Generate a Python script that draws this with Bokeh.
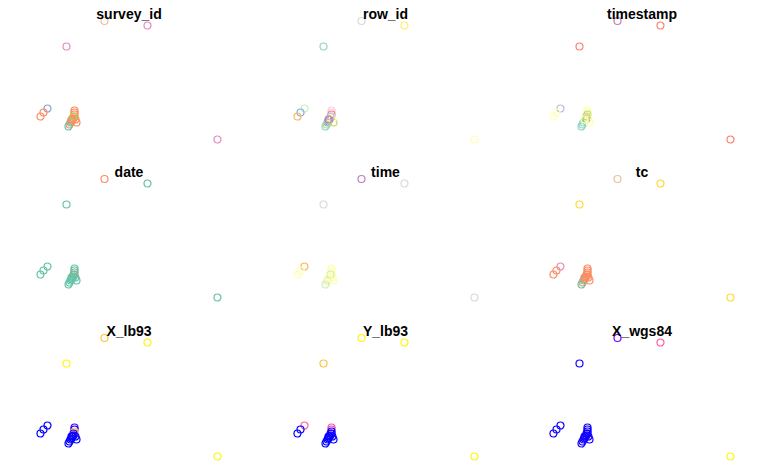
from bokeh.plotting import figure
from bokeh.layouts import gridplot
from bokeh.models import Range1d, Label, ColumnDataSource
from bokeh.embed import file_html
from bokeh.resources import INLINE

# point coordinates (Lambert-like metres)
X = [154000, 197000, 116000, 97000, 93000, 90000, 267000,
     124000, 124000, 124000, 124000, 123000, 122000, 121000, 120000,
     119000, 118000, 126000, 125000, 123000, 121000]
Y = [229500, 225000, 204000, 142000, 138000, 134000, 111000,
     140000, 138000, 136000, 134000, 132000, 131000, 129000, 128000,
     126000, 124000, 128000, 131000, 134000, 131000]

titles = ["survey_id", "row_id", "timestamp", "date", "time", "tc",
          "X_lb93", "Y_lb93", "X_wgs84"]

# categorical codes (palette index) per attribute
survey_id = [6, 3, 3, 2, 1, 1, 3, 1, 1, 1, 1, 1, 1, 1, 0, 1, 0, 1, 1, 4, 1]
row_id    = [8, 11, 0, 10, 4, 5, 1, 7, 7, 3, 8, 1, 9, 9, 4, 6, 0, 6, 1, 2, 9]
timestamp = [9, 3, 3, 2, 1, 1, 3, 1, 1, 6, 1, 3, 0, 1, 0, 0, 0, 1, 1, 6, 1]
date      = [1, 0, 0, 0, 0, 0, 0, 0, 0, 0, 1, 0, 0, 0, 0, 0, 0, 0, 0, 0, 0]
time      = [9, 8, 8, 5, 1, 1, 8, 1, 1, 1, 1, 1, 1, 1, 10, 1, 10, 1, 1, 10, 1]
tc        = [6, 5, 5, 3, 1, 1, 5, 1, 1, 1, 1, 1, 1, 1, 0, 1, 0, 1, 1, 1, 1]
# continuous levels (0..1) per attribute
X_lb93  = [0.80, 0.90, 0.90, 0.25, 0.25, 0.25, 0.90, 0.35, 0.25, 0.80, 0.75,
           0.25, 0.25, 0.25, 0.25, 0.25, 0.25, 0.25, 0.25, 0.30, 0.25]
Y_lb93  = [0.90, 0.90, 0.80, 0.62, 0.25, 0.25, 0.90, 0.60, 0.55, 0.25, 0.25,
           0.25, 0.25, 0.25, 0.25, 0.25, 0.25, 0.25, 0.25, 0.30, 0.25]
X_wgs84 = [0.40, 0.60, 0.27, 0.27, 0.27, 0.27, 0.90, 0.27, 0.27, 0.27, 0.27,
           0.27, 0.27, 0.27, 0.27, 0.27, 0.27, 0.27, 0.27, 0.27, 0.27]

SET2 = ["#66C2A5", "#FC8D62", "#8DA0CB", "#E78AC3", "#A6D854", "#FFD92F",
        "#E5C494", "#B3B3B3"]
SET3 = ["#8DD3C7", "#FFFFB3", "#BEBADA", "#FB8072", "#80B1D3", "#FDB462",
        "#B3DE69", "#FCCDE5", "#D9D9D9", "#BC80BD", "#CCEBC5", "#FFED6F"]


def bpy(i):
    r = 0 if i < .25 else (i / .32 - .78125 if i < .57 else 1)
    g = 0 if i < .42 else (2 * i - .84 if i < .92 else 1)
    b = 4 * i if i < .25 else (1 if i < .42 else (-2 * i + 1.84 if i < .92 else i / .08 - 11.5))
    c = [max(0, min(1, v)) for v in (r, g, b)]
    return "#%02X%02X%02X" % tuple(int(round(v * 255)) for v in c)


colors = [
    [SET2[k] for k in survey_id],
    [SET3[k] for k in row_id],
    [SET3[k] for k in timestamp],
    [SET2[k] for k in date],
    [SET3[k] for k in time],
    [SET2[k] for k in tc],
    [bpy(v) for v in X_lb93],
    [bpy(v) for v in Y_lb93],
    [bpy(v) for v in X_wgs84],
]

widths = [257, 256, 257]
heights = [158, 159, 158]
X0 = 50000
YTOP = 250000
SCALE = 1000

rows = []
k = 0
for r in range(3):
    row = []
    for c in range(3):
        w, h = widths[c], heights[r]
        p = figure(width=w, height=h, output_backend="svg", toolbar_location=None,
                   x_range=Range1d(X0, X0 + w * SCALE),
                   y_range=Range1d(YTOP - h * SCALE, YTOP),
                   min_border=0, min_border_left=0, min_border_right=0,
                   min_border_top=0, min_border_bottom=0)
        p.axis.visible = False
        p.grid.visible = False
        p.outline_line_color = None
        p.background_fill_color = "white"
        p.border_fill_color = "white"
        src = ColumnDataSource(dict(x=X, y=Y, col=colors[k]))
        p.scatter("x", "y", source=src, marker="circle", size=7,
                  fill_color=None, line_color="col", line_width=1.2)
        p.add_layout(Label(x=w / 2, y=h - 13, x_units="screen", y_units="screen",
                           text=titles[k], text_align="center",
                           text_baseline="alphabetic", text_font="Liberation Sans",
                           text_font_style="bold", text_font_size="14px",
                           text_color="black"))
        row.append(p)
        k += 1
    rows.append(row)

grid = gridplot(rows, toolbar_location=None)
open("out.html", "w").write(file_html(grid, INLINE))
